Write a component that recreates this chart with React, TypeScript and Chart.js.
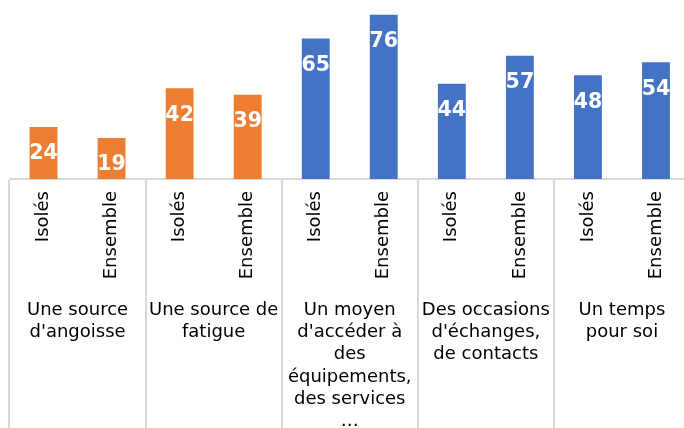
import React, { useEffect, useRef } from "react";
import { Chart, registerables } from "chart.js";

Chart.register(...registerables);

const subLabels = ["Isolés", "Ensemble", "Isolés", "Ensemble", "Isolés", "Ensemble", "Isolés", "Ensemble", "Isolés", "Ensemble"];
const groupLabels = [
  ["Une source", "d'angoisse"],
  ["Une source de", "fatigue"],
  ["Un moyen", "d'accéder à", "des", "équipements,", "des services", "…"],
  ["Des occasions", "d'échanges,", "de contacts"],
  ["Un temps", "pour soi"],
];
const values = [24, 19, 42, 39, 65, 76, 44, 57, 48, 54];
const barColors = ["#ED7D31", "#ED7D31", "#ED7D31", "#ED7D31", "#4472C4", "#4472C4", "#4472C4", "#4472C4", "#4472C4", "#4472C4"];

const FONT = "'DejaVu Sans', Verdana, sans-serif";
const GRID = "#d9d9d9";

const valueLabels = {
  id: "valueLabels",
  afterDatasetsDraw(chart: any) {
    const ctx = chart.ctx;
    const meta = chart.getDatasetMeta(0);
    ctx.save();
    ctx.fillStyle = "#ffffff";
    ctx.font = `bold 20.5px ${FONT}`;
    ctx.textAlign = "center";
    ctx.textBaseline = "middle";
    meta.data.forEach((bar: any, i: number) => {
      ctx.fillText(String(chart.data.datasets[0].data[i]), bar.x, bar.y + 27);
    });
    ctx.restore();
  },
};

export default function App() {
  const ref = useRef<HTMLCanvasElement>(null);
  useEffect(() => {
    document.body.style.overflow = "hidden";
    const chart = new Chart(ref.current!, {
      type: "bar",
      data: {
        labels: subLabels,
        datasets: [
          {
            data: values,
            backgroundColor: barColors,
            xAxisID: "x",
            categoryPercentage: 1,
            barPercentage: 0.41,
          },
        ],
      },
      options: {
        responsive: false,
        animation: false,
        layout: { padding: { top: 6, left: 9.5, right: 0, bottom: 0 } },
        plugins: { legend: { display: false }, tooltip: { enabled: false } },
        scales: {
          y: { display: false, min: 0, max: 80 },
          x: {
            type: "category",
            labels: subLabels,
            offset: true,
            weight: 0,
            grid: {
              offset: true,
              drawOnChartArea: false,
              drawTicks: true,
              tickLength: 104,
              lineWidth: 2,
              color: (c: any) => (c.index % 2 === 0 ? GRID : "rgba(0,0,0,0)"),
            },
            border: { display: true, color: GRID, width: 2 },
            ticks: {
              autoSkip: false,
              minRotation: 90,
              maxRotation: 90,
              padding: -92,
              color: "#000",
              font: { family: FONT, size: 18 },
            },
            afterFit: (s: any) => {
              s.height = 104;
            },
          },
          x2: {
            type: "category",
            labels: groupLabels as any,
            offset: true,
            weight: 1,
            position: "bottom",
            grid: {
              offset: true,
              drawOnChartArea: false,
              drawTicks: true,
              tickLength: 177,
              lineWidth: 2,
              color: GRID,
            },
            border: { display: false },
            ticks: {
              autoSkip: false,
              maxRotation: 0,
              minRotation: 0,
              padding: -161,
              color: "#000",
              font: { family: FONT, size: 18, lineHeight: 1.24 },
            },
            afterFit: (s: any) => {
              s.height = 177;
            },
          },
        },
      },
      plugins: [valueLabels],
    });
    return () => chart.destroy();
  }, []);
  return (
    <div style={{ position: "fixed", left: 0, top: 0, width: 690, height: 460, background: "#fff" }}>
      <canvas ref={ref} width={690} height={460} style={{ width: 690, height: 460 }} />
    </div>
  );
}
